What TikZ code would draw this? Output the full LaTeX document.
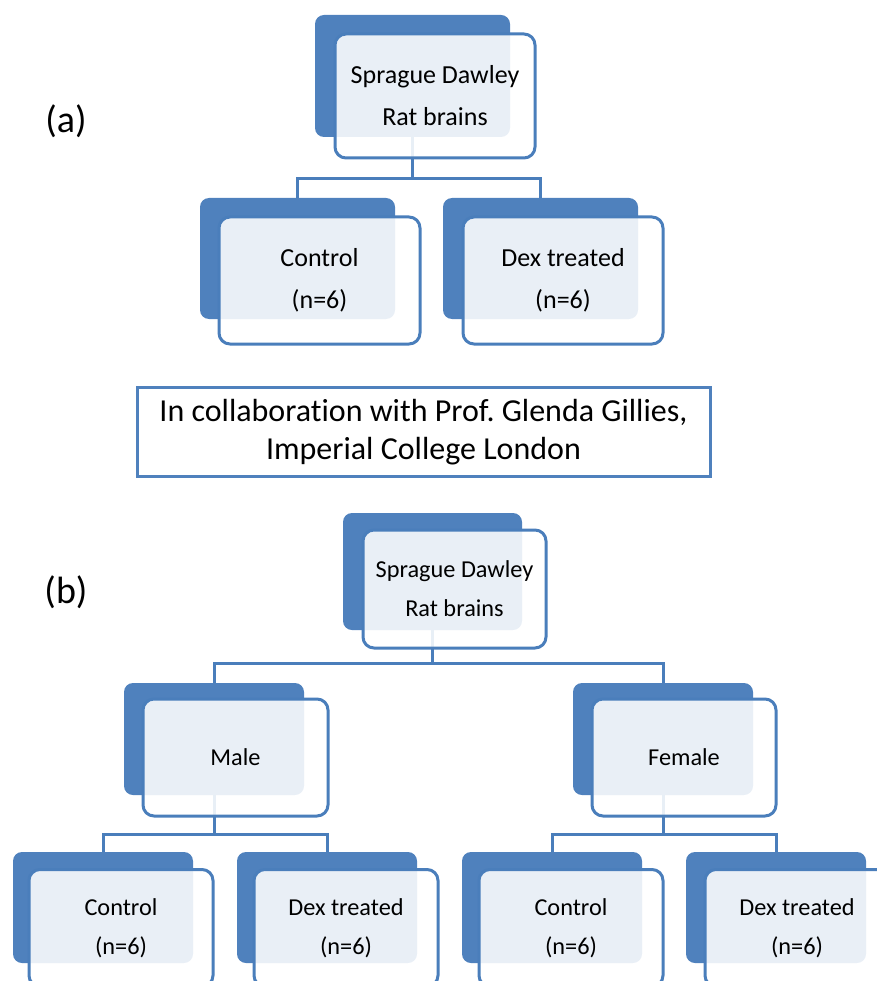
\documentclass[tikz,border=0pt]{standalone}
\usepackage{fontspec}
\setmainfont{Carlito}[Ligatures=NoCommon]
\usetikzlibrary{backgrounds}

\definecolor{boxblue}{HTML}{4F81BD}
\definecolor{lineblue}{HTML}{4A7EBB}

\tikzset{
    backbox/.style={fill=boxblue, rounded corners=9pt, inner sep=0pt},
    frontbox/.style={draw=lineblue, line width=3pt, fill=white, fill opacity=0.88, text opacity=1,
        rounded corners=11pt, align=center, inner sep=0pt},
    link/.style={draw=lineblue, line width=3pt},
    notebox/.style={draw=boxblue, line width=3pt, align=center, inner sep=0pt,
        font=\fontsize{32}{38}\selectfont},
    panellabel/.style={font=\fontsize{38}{40}\selectfont},
    fonta/.style={font=\fontsize{26}{42}\selectfont},
    fontb/.style={font=\fontsize{24.3}{39}\selectfont}
}

\begin{document}
\begin{tikzpicture}[x=1pt, y=-1pt]

    \useasboundingbox (0,0) rectangle (876,981);

    % panel (a): back boxes
    \node[backbox, minimum width=195pt, minimum height=122pt] (topA-back) at (412.5,76) {};
    \node[backbox, minimum width=195pt, minimum height=121pt] (ctrlA-back) at (297.5,258.5) {};
    \node[backbox, minimum width=195pt, minimum height=121pt] (dexA-back) at (540.5,258.5) {};

    % panel (b): back boxes
    \node[backbox, minimum width=179pt, minimum height=117pt] (topB-back) at (432.5,571.5) {};
    \node[backbox, minimum width=180pt, minimum height=112pt] (male-back) at (214,739) {};
    \node[backbox, minimum width=180pt, minimum height=112pt] (female-back) at (663,739) {};
    \node[backbox, minimum width=180pt, minimum height=111pt] (ctrlM-back) at (103,907.5) {};
    \node[backbox, minimum width=180pt, minimum height=111pt] (dexM-back) at (327,907.5) {};
    \node[backbox, minimum width=180pt, minimum height=111pt] (ctrlF-back) at (552,907.5) {};
    \node[backbox, minimum width=180pt, minimum height=111pt] (dexF-back) at (776,907.5) {};

    % connectors
    \begin{scope}[on background layer]
        \draw[link] (topA-back.south) -- ++(0,41) -| (ctrlA-back.north);
        \draw[link] (topA-back.south) -- ++(0,41) -| (dexA-back.north);
        \draw[link] (topB-back.south) -- ++(0,33) -| (male-back.north);
        \draw[link] (topB-back.south) -- ++(0,33) -| (female-back.north);
        \draw[link] (male-back.south) -- ++(0,39) -| (ctrlM-back.north);
        \draw[link] (male-back.south) -- ++(0,39) -| (dexM-back.north);
        \draw[link] (female-back.south) -- ++(0,39) -| (ctrlF-back.north);
        \draw[link] (female-back.south) -- ++(0,39) -| (dexF-back.north);
    \end{scope}

    % panel (a): front boxes
    \node[frontbox, fonta, minimum width=200pt, minimum height=124pt] (topA) at (435,96) {Sprague Dawley\\Rat brains};
    \node[frontbox, fonta, minimum width=201pt, minimum height=127pt] (ctrlA) at (319.5,280.5) {Control\\(n=6)};
    \node[frontbox, fonta, minimum width=200pt, minimum height=127pt] (dexA) at (563,280.5) {Dex treated\\(n=6)};

    % note between panels
    \node[notebox, minimum width=573pt, minimum height=89pt] (collab) at (423.5,432)
        {In collaboration with Prof.\ Glenda Gillies,\\Imperial College London};

    % panel (b): front boxes
    \node[frontbox, fontb, minimum width=183pt, minimum height=118pt] (topB) at (454.5,589) {Sprague Dawley\\Rat brains};
    \node[frontbox, fontb, minimum width=185pt, minimum height=117pt] (male) at (235.5,757.5) {Male};
    \node[frontbox, fontb, minimum width=184pt, minimum height=117pt] (female) at (684,757.5) {Female};
    \node[frontbox, fontb, minimum width=184pt, minimum height=117pt] (ctrlM) at (121,928) {Control\\(n=6)};
    \node[frontbox, fontb, minimum width=184pt, minimum height=117pt] (dexM) at (346,928) {Dex treated\\(n=6)};
    \node[frontbox, fontb, minimum width=184pt, minimum height=117pt] (ctrlF) at (571,928) {Control\\(n=6)};
    \node[frontbox, fontb, minimum width=184pt, minimum height=117pt] (dexF) at (797,928) {Dex treated\\(n=6)};

    % add labels
    \node[panellabel] (labelA) at (66,121) {(a)};
    \node[panellabel] (labelB) at (66,592) {(b)};

\end{tikzpicture}
\end{document}
